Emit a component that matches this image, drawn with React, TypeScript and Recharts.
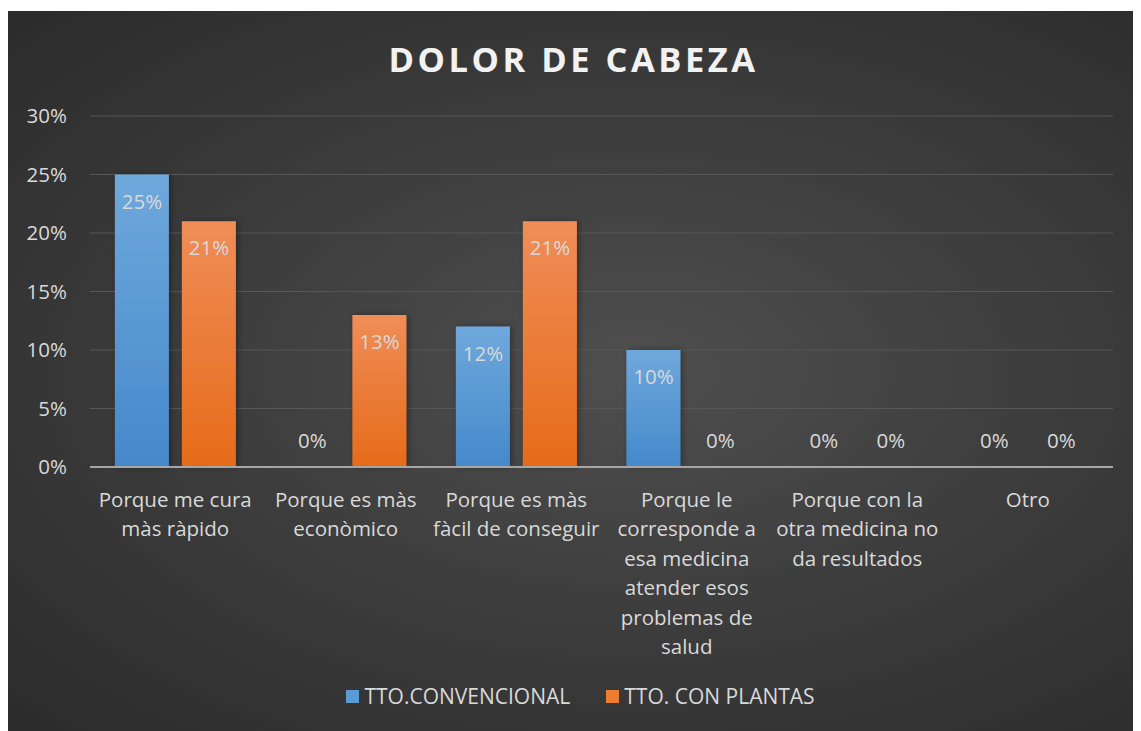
import React from "react";
import { BarChart, Bar, XAxis, YAxis, CartesianGrid, LabelList, ReferenceLine } from "recharts";

const categories = [
  "Porque me cura\nmàs ràpido",
  "Porque es màs\neconòmico",
  "Porque es màs\nfàcil de conseguir",
  "Porque le\ncorresponde a\nesa medicina\natender esos\nproblemas de\nsalud",
  "Porque con la\notra medicina no\nda resultados",
  "Otro",
];
const convencional = [25, 0, 12, 10, 0, 0];
const plantas = [21, 13, 21, 0, 0, 0];
const yTicks = [0, 5, 10, 15, 20, 25, 30];
const seriesNames = ["TTO.CONVENCIONAL", "TTO. CON PLANTAS"];

const data = categories.map((name, i) => ({ name, conv: convencional[i], plant: plantas[i] }));

const FONT = "'Open Sans', sans-serif";
const TEXT = "#d9d9d9";
const FS = 20.5;

const CategoryTick = (props: any) => {
  const { x, y, payload } = props;
  const lines = String(payload.value).split("\n");
  return (
    <g>
      {lines.map((line, i) => (
        <text key={i} x={x} y={y + 32 + i * 29.4} textAnchor="middle" fill={TEXT} fontSize={FS} fontFamily={FONT}>
          {line}
        </text>
      ))}
    </g>
  );
};

const valueLabel = (props: any) => {
  const { x, y, width, value } = props;
  const ty = value === 0 ? y - 19 : y + 34;
  return (
    <text x={x + width / 2} y={ty} textAnchor="middle" fill={TEXT} fontSize={FS} fontFamily={FONT}>
      {value}%
    </text>
  );
};

// zero bars need a sliver of height so their labels still render
const tinyForZero = (value: any) => (value === 0 ? 0.01 : 0);

export default function App() {
  return (
    <div
      style={{
        position: "relative",
        width: 1131,
        height: 720,
        marginTop: 3,
        background: "radial-gradient(ellipse at 55% 50%, #4f4f4f 0%, #3e3e3e 45%, #2b2b2b 100%)",
        fontFamily: FONT,
      }}
    >
      <div
        style={{
          position: "absolute",
          top: 24,
          left: 0,
          width: 1131,
          textAlign: "center",
          color: "#f2f2f2",
          fontSize: 34.5,
          fontWeight: 700,
          letterSpacing: 3.5,
        }}
      >
        DOLOR DE CABEZA
      </div>
      <BarChart
        width={1131}
        height={720}
        data={data}
        margin={{ top: 105, right: 26, bottom: 64, left: 0 }}
        barCategoryGap="14.6%"
        barGap={13}
      >
        <defs>
          <linearGradient id="gBlue" x1="0" y1="0" x2="0" y2="1">
            <stop offset="0%" stopColor="#6fa8dc" />
            <stop offset="100%" stopColor="#4589cb" />
          </linearGradient>
          <linearGradient id="gOrange" x1="0" y1="0" x2="0" y2="1">
            <stop offset="0%" stopColor="#f08d58" />
            <stop offset="100%" stopColor="#e66b19" />
          </linearGradient>
          <filter id="shadow" x="-20%" y="-20%" width="140%" height="140%">
            <feDropShadow dx="2" dy="0" stdDeviation="3" floodColor="#000" floodOpacity="0.35" />
          </filter>
        </defs>
        <CartesianGrid vertical={false} stroke="#575757" strokeWidth={1} />
        <XAxis
          dataKey="name"
          height={200}
          axisLine={false}
          tickLine={false}
          interval={0}
          tick={<CategoryTick />}
        />
        <YAxis
          width={82}
          domain={[0, 30]}
          ticks={yTicks}
          axisLine={false}
          tickLine={false}
          tickSize={0}
          tickMargin={23}
          tickFormatter={(v) => `${v}%`}
          tick={{ fill: TEXT, fontSize: FS, fontFamily: FONT }}
        />
        <Bar dataKey="conv" name={seriesNames[0]} fill="url(#gBlue)" filter="url(#shadow)" minPointSize={tinyForZero} isAnimationActive={false}>
          <LabelList dataKey="conv" content={valueLabel} />
        </Bar>
        <Bar dataKey="plant" name={seriesNames[1]} fill="url(#gOrange)" filter="url(#shadow)" minPointSize={tinyForZero} isAnimationActive={false}>
          <LabelList dataKey="plant" content={valueLabel} />
        </Bar>
        <ReferenceLine y={0} stroke="#a6a6a6" strokeWidth={2} />
      </BarChart>
      <div
        style={{
          position: "absolute",
          top: 671,
          left: 0,
          width: 1131,
          display: "flex",
          justifyContent: "center",
          paddingLeft: 14,
          boxSizing: "border-box",
          color: TEXT,
          fontSize: 21,
        }}
      >
        {seriesNames.map((n, i) => (
          <div key={n} style={{ display: "flex", alignItems: "center", marginRight: i === 0 ? 36 : 0 }}>
            <span
              style={{
                display: "inline-block",
                width: 13,
                height: 13,
                marginRight: 5,
                background: i === 0 ? "#5b9bd5" : "#ed7d31",
              }}
            />
            {n}
          </div>
        ))}
      </div>
    </div>
  );
}
